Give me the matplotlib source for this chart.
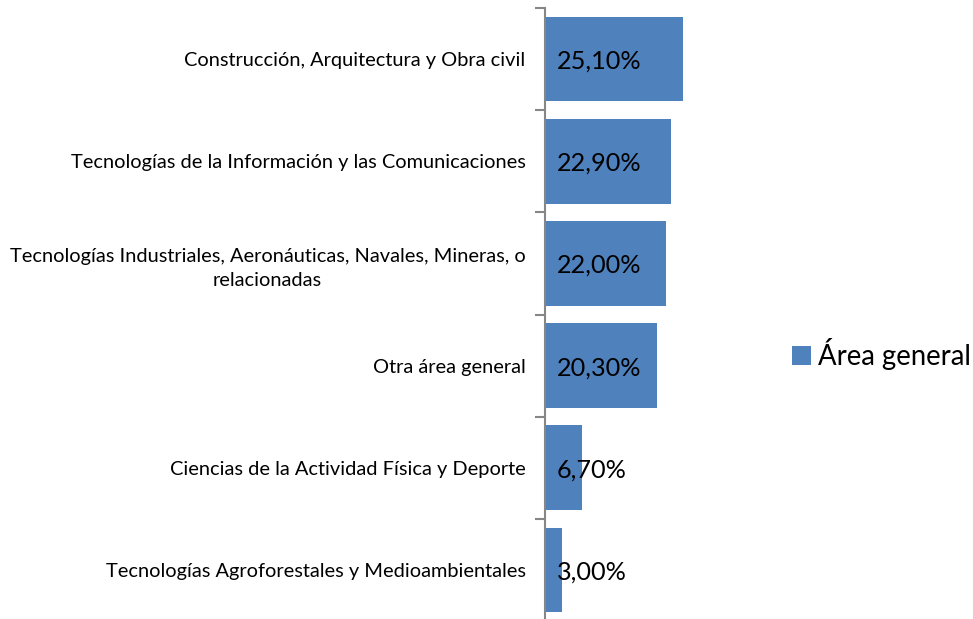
import matplotlib.pyplot as plt
from matplotlib.patches import Patch

plt.rcParams['font.family'] = ['Lato', 'DejaVu Sans']

categories = [
    "Construcción, Arquitectura y Obra civil",
    "Tecnologías de la Información y las Comunicaciones",
    "Tecnologías Industriales, Aeronáuticas, Navales, Mineras, o\nrelacionadas",
    "Otra área general",
    "Ciencias de la Actividad Física y Deporte",
    "Tecnologías Agroforestales y Medioambientales",
]
values = [25.10, 22.90, 22.00, 20.30, 6.70, 3.00]
series_name = "Área general"

BAR = "#4F81BD"
AXIS = "#868686"

W, H = 973, 619
fig = plt.figure(figsize=(W / 100, H / 100), dpi=100)
x0, x1 = 545, 765
y_top, y_bot = 8, 621
ax = fig.add_axes([x0 / W, 1 - y_bot / H, (x1 - x0) / W, (y_bot - y_top) / H])

pos = list(range(len(categories)))
ax.barh(pos, values, height=0.83, color=BAR, edgecolor="none", zorder=2)
ax.set_xlim(0, 40)
ax.set_ylim(len(categories) - 0.5, -0.5)

for p, v in zip(pos, values):
    ax.text(2.2, p + 0.02, f"{v:.2f}".replace(".", ",") + "%", ha="left", va="center",
            fontsize=18.2, color="black", zorder=3)

for s in ["top", "right", "bottom"]:
    ax.spines[s].set_visible(False)
ax.spines["left"].set_color(AXIS)
ax.spines["left"].set_linewidth(1.5)
ax.set_xticks([])
ax.set_yticks([p - 0.5 for p in pos] + [len(pos) - 0.5], minor=True)
ax.set_yticks(pos)
ax.set_yticklabels(categories, fontsize=14.4)
ax.tick_params(axis="y", which="major", length=0, pad=14)
ax.tick_params(axis="y", which="minor", length=7, width=1.5, color=AXIS)
for lab in ax.get_yticklabels():
    lab.set_multialignment("center")
    lab.set_linespacing(1.5)

fig.legend(handles=[Patch(facecolor=BAR, edgecolor="none", label=series_name)],
           loc="center left", bbox_to_anchor=(792 / W, 1 - 354 / H), frameon=False,
           fontsize=19.8, handlelength=0.68, handleheight=0.68, handletextpad=0.25,
           borderpad=0, borderaxespad=0)

fig.savefig("out.png", dpi=100)
